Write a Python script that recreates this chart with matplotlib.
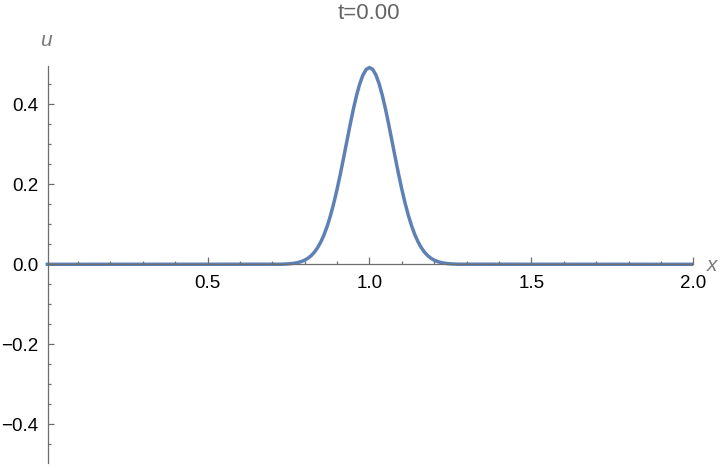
import matplotlib
matplotlib.use("Agg")
import matplotlib.pyplot as plt
from matplotlib.ticker import FixedLocator, FuncFormatter

plt.rcParams['font.family'] = ['Liberation Sans', 'DejaVu Sans']

# data
x_vals = [0.0, 0.72, 0.73, 0.74, 0.75, 0.76, 0.77, 0.78, 0.79, 0.80, 0.81, 0.82,
          0.83, 0.84, 0.85, 0.86, 0.87, 0.88, 0.89, 0.90, 0.91, 0.92, 0.93, 0.94,
          0.95, 0.96, 0.97, 0.98, 0.99, 1.00, 1.01, 1.02, 1.03, 1.04, 1.05, 1.06,
          1.07, 1.08, 1.09, 1.10, 1.11, 1.12, 1.13, 1.14, 1.15, 1.16, 1.17, 1.18,
          1.19, 1.20, 1.21, 1.22, 1.23, 1.24, 1.25, 1.26, 1.27, 1.28, 2.0]
u_vals = [0.0, 0.0002, 0.0004, 0.0007, 0.0012, 0.0019, 0.0030, 0.0046, 0.0070,
          0.0104, 0.0151, 0.0216, 0.0303, 0.0417, 0.0562, 0.0743, 0.0964, 0.1227,
          0.1532, 0.1876, 0.2252, 0.2654, 0.3067, 0.3477, 0.3866, 0.4216, 0.4511,
          0.4734, 0.4873, 0.4920, 0.4873, 0.4734, 0.4511, 0.4216, 0.3866, 0.3477,
          0.3067, 0.2654, 0.2252, 0.1876, 0.1532, 0.1227, 0.0964, 0.0743, 0.0562,
          0.0417, 0.0303, 0.0216, 0.0151, 0.0104, 0.0070, 0.0046, 0.0030, 0.0019,
          0.0012, 0.0007, 0.0004, 0.0002, 0.0]
x_major = [0.5, 1.0, 1.5, 2.0]
x_minor = [0.1, 0.2, 0.3, 0.4, 0.6, 0.7, 0.8, 0.9, 1.1, 1.2, 1.3, 1.4, 1.6, 1.7, 1.8, 1.9]
y_major = [-0.4, -0.2, 0.0, 0.2, 0.4]
y_minor = [-0.45, -0.35, -0.3, -0.25, -0.15, -0.1, -0.05, 0.05, 0.1, 0.15,
           0.25, 0.3, 0.35, 0.45]
title_text = "t=0.00"

W, H = 720, 468
fig = plt.figure(figsize=(W / 100, H / 100), dpi=100)
left_px, right_px, top_px, bot_px = 47.7, 693.3, 66.0, 463.3
ax = fig.add_axes([left_px / W, 1 - bot_px / H, (right_px - left_px) / W, (bot_px - top_px) / H])

line_color = '#5E81B5'
axis_color = '#6e6e6e'

ax.plot(x_vals, u_vals, color=line_color, lw=2.5, clip_on=False, zorder=1,
        solid_capstyle='butt')

ax.set_xlim(0.0065, 2.0)
ax.set_ylim(-0.4975, 0.4958)

for s in ['top', 'right']:
    ax.spines[s].set_visible(False)
ax.spines['bottom'].set_position(('data', 0))
ax.spines['left'].set_position(('axes', 0))
for s in ['bottom', 'left']:
    ax.spines[s].set_color(axis_color)
    ax.spines[s].set_linewidth(0.9)
    ax.spines[s].set_zorder(3)


def fmt(v, pos):
    s = '%.1f' % abs(v)
    return ('\u2212' + s) if v < -1e-9 else s


ax.xaxis.set_major_locator(FixedLocator(x_major))
ax.xaxis.set_minor_locator(FixedLocator(x_minor))
ax.yaxis.set_major_locator(FixedLocator(y_major))
ax.yaxis.set_minor_locator(FixedLocator(y_minor))
ax.xaxis.set_major_formatter(FuncFormatter(fmt))
ax.yaxis.set_major_formatter(FuncFormatter(fmt))

ax.tick_params(axis='x', which='major', direction='in', length=5, width=0.9,
               color=axis_color, labelsize=13.5, labelcolor='black', pad=8)
ax.tick_params(axis='x', which='minor', direction='in', length=2.5, width=0.9,
               color=axis_color)
ax.tick_params(axis='y', which='major', direction='in', length=4, width=0.9,
               color=axis_color, labelsize=13.5, labelcolor='black', pad=6.8)
ax.tick_params(axis='y', which='minor', direction='in', length=2.2, width=0.9,
               color=axis_color)

fig.text(368.5 / W, 1 - 13.5 / H, title_text, ha='center', va='center',
         fontsize=16, color='#646464')
fig.text(46 / W, 1 - 40 / H, 'u', ha='center', va='center', fontsize=15,
         style='italic', color='#7a7a7a')
fig.text(712.5 / W, 1 - 265.5 / H, 'x', ha='center', va='center', fontsize=15,
         style='italic', color='#7a7a7a')

fig.savefig('out.png', dpi=100)
